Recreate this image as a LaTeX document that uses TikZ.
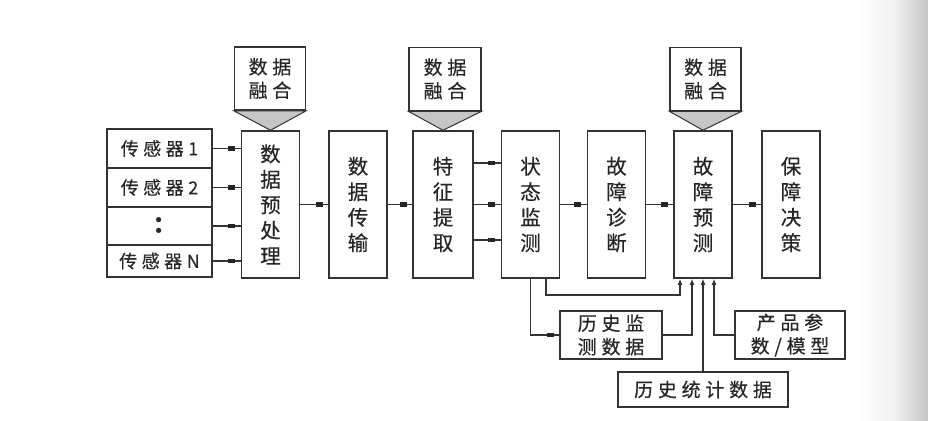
\documentclass[tikz,border=0pt]{standalone}
\usepackage{fontspec}
\usetikzlibrary{arrows.meta,decorations.markings}
\newfontfamily\cjk[LetterSpace=25,FakeBold=0.4]{Noto Sans CJK SC}
\newfontfamily\cjkv[FakeBold=0.4]{Noto Sans CJK SC}

\begin{document}
\begin{tikzpicture}[x=1pt,y=-1pt]
\tikzset{box/.style = {draw=black!80,line width=1.5pt,inner sep=0pt,text=black!85,align=center,font=\cjk\fontsize{19}{23.5}\selectfont}}
\tikzset{stage/.style = {box,minimum width=58pt,minimum height=147pt,font=\cjkv\fontsize{20.5}{25.5}\selectfont}}
\tikzset{sensor/.style = {box,minimum width=105pt,font=\cjk\fontsize{18}{22}\selectfont}}
\tikzset{fuse/.style = {box,minimum width=71pt,minimum height=63pt}}
\tikzset{link/.style = {draw=black!80,line width=1.5pt,postaction={decorate,decoration={markings,
  mark=at position -9pt with {\fill[black!85] (-3.5pt,-2.2pt) rectangle (3.5pt,2.2pt);}}}}}
\tikzset{edge/.style = {draw=black!80,line width=1.5pt,-{Latex[length=6pt,width=5pt]}}}
\useasboundingbox (0,0) rectangle (928,420);
\shade[left color=white,right color=gray!10] (858,0) rectangle (893,420);
\shade[left color=gray!10,right color=gray!45] (893,0) rectangle (928,420);

\node[sensor,minimum height=39pt] (s1) at (159.5,148.5) {传感器1};
\node[sensor,minimum height=39pt] (s2) at (159.5,187.5) {传感器2};
\node[sensor,minimum height=38pt] (s3) at (159.5,226) {\rmfamily\bfseries\fontsize{36}{36}\selectfont :};
\node[sensor,minimum height=32pt] (sn) at (159.5,261) {传感器N};

\node[stage] (pre) at (270.5,204.5) {数\\据\\预\\处\\理};
\node[stage] (trans) at (358,204.5) {数\\据\\传\\输};
\node[stage,minimum width=60pt] (feat) at (443,204.5) {特\\征\\提\\取};
\node[stage] (state) at (530.5,204.5) {状\\态\\监\\测};
\node[stage] (diag) at (616.5,204.5) {故\\障\\诊\\断};
\node[stage] (pred) at (703,204.5) {故\\障\\预\\测};
\node[stage] (dec) at (791,204.5) {保\\障\\决\\策};

\node[fuse] (fuse1) at (270,78.5) {数据\\融合};
\node[fuse,minimum width=72pt] (fuse2) at (445,79) {数据\\融合};
\node[fuse] (fuse3) at (705.5,79) {数据\\融合};
\filldraw[draw=black!80,line width=1pt,fill=gray!45] (fuse1.south west) -- (fuse1.south east) -- (pre.north) -- cycle;
\filldraw[draw=black!80,line width=1pt,fill=gray!45] (fuse2.south west) -- (fuse2.south east) -- (feat.north) -- cycle;
\filldraw[draw=black!80,line width=1pt,fill=gray!45] (fuse3.south west) -- (fuse3.south east) -- (pred.north) -- cycle;

\node[box,minimum width=102pt,minimum height=48pt] (hist) at (611,335) {历史监\\测数据};
\node[box,minimum width=110pt,minimum height=48pt] (param) at (790,335) {产品参\\数/模型};
\node[box,minimum width=170pt,minimum height=35pt] (stats) at (703,389.5) {历史统计数据};

\foreach \s in {s1,s2,s3,sn}
  \draw[link] (\s) to (\s -| pre.west);
\draw[link] (pre) to (trans);
\draw[link] (trans) to (feat);
\draw[link] ([yshift=41.5pt]feat.east) to ([yshift=41.5pt]state.west);
\draw[link] (feat) to (state);
\draw[link] ([yshift=-35.5pt]feat.east) to ([yshift=-35.5pt]state.west);
\draw[link] (state) to (diag);
\draw[link] (diag) to (pred);
\draw[link] (pred) to (dec);

\draw[link] (state.south) |- (hist.west);
\draw[edge] ([xshift=15.5pt]state.south) -- ++(0,16) -| ([xshift=-23pt]pred.south);
\draw[edge] (hist.east) -| ([xshift=-11pt]pred.south);
\draw[edge] (stats) to (pred);
\draw[edge] (param.west) -| ([xshift=11pt]pred.south);
\end{tikzpicture}
\end{document}
